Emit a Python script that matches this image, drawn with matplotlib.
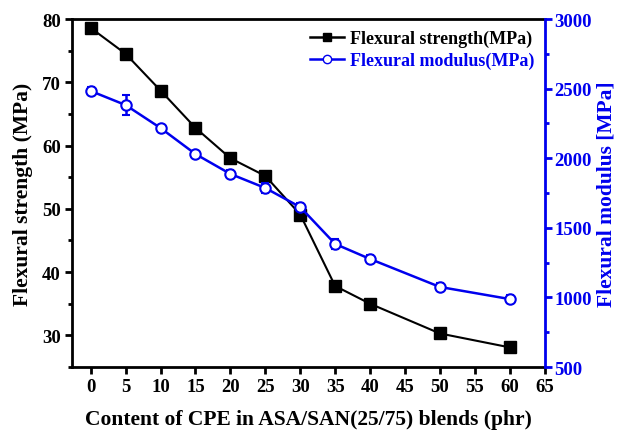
import matplotlib
matplotlib.use("Agg")
import matplotlib.pyplot as plt
from matplotlib.ticker import MultipleLocator
from matplotlib.lines import Line2D

plt.rcParams['font.family'] = ['Liberation Serif', 'DejaVu Serif']
plt.rcParams['font.weight'] = 'bold'

# data
cpe = [0, 5, 10, 15, 20, 25, 30, 35, 40, 50, 60]
strength = [78.6, 74.5, 68.7, 62.8, 58.0, 55.2, 49.1, 37.8, 35.0, 30.3, 28.1]
strength_err = [0.4, 0.4, 0.5, 0.4, 0.4, 0.5, 0.6, 0.4, 0.4, 0.3, 0.3]
modulus = [2483, 2382, 2217, 2030, 1887, 1786, 1649, 1384, 1276, 1075, 988]
modulus_err = [25, 70, 25, 20, 25, 35, 30, 35, 30, 25, 30]
xticks = [0, 5, 10, 15, 20, 25, 30, 35, 40, 45, 50, 55, 60, 65]

blue = '#0000ee'

fig = plt.figure(figsize=(6.19, 4.35), dpi=100)
ax = fig.add_axes([0.116, 0.154, 0.764, 0.80])
ax2 = ax.twinx()

ax.errorbar(cpe, strength, yerr=strength_err, color='black', marker='s',
            markersize=8.5, linewidth=1.5, capsize=3)
ax2.errorbar(cpe, modulus, yerr=modulus_err, color=blue, marker='o',
             markersize=7.5, markerfacecolor='white', markeredgewidth=1.5,
             linewidth=1.8, capsize=3)

ax.set_xlim(-2.7, 65)
ax.set_ylim(25, 80)
ax2.set_ylim(500, 3000)
ax.set_xticks(xticks)
ax.yaxis.set_major_locator(MultipleLocator(10))
ax.yaxis.set_minor_locator(MultipleLocator(5))
ax2.yaxis.set_major_locator(MultipleLocator(500))
ax2.yaxis.set_minor_locator(MultipleLocator(250))

for sp in ['left', 'bottom', 'top']:
    ax.spines[sp].set_linewidth(2)
ax.spines['right'].set_visible(False)
ax2.spines['right'].set_color(blue)
ax2.spines['right'].set_linewidth(2)
for sp in ['left', 'bottom', 'top']:
    ax2.spines[sp].set_visible(False)

ax.tick_params(axis='both', which='major', labelsize=13.5, width=2, length=5,
               direction='out', pad=3)
ax.tick_params(axis='y', which='minor', width=2, length=3)
ax2.tick_params(axis='y', which='major', labelsize=13.5, width=2, length=5,
                colors=blue, pad=2)
ax2.tick_params(axis='y', which='minor', width=2, length=3, colors=blue)

ax.set_xlabel('Content of CPE in ASA/SAN(25/75) blends (phr)', fontsize=15.5,
              fontweight='bold', labelpad=10)
ax.set_ylabel('Flexural strength (MPa)', fontsize=15.5, fontweight='bold', labelpad=6)
ax2.set_ylabel('Flexural modulus [MPa]', fontsize=15.5, fontweight='bold',
               color=blue, labelpad=3)

h1 = Line2D([], [], color='black', marker='s', markersize=6, linewidth=1.8)
h2 = Line2D([], [], color=blue, marker='o', markersize=6, markerfacecolor='white',
            linewidth=1.8)
leg = ax.legend([h1, h2], ['Flexural strength(MPa)', 'Flexural modulus(MPa)'],
                loc='upper right', frameon=False, fontsize=13, handlelength=1.9,
                borderaxespad=0.2, handletextpad=0.3, labelspacing=0.25)
leg.get_texts()[1].set_color(blue)

fig.savefig('out.png', dpi=100)
